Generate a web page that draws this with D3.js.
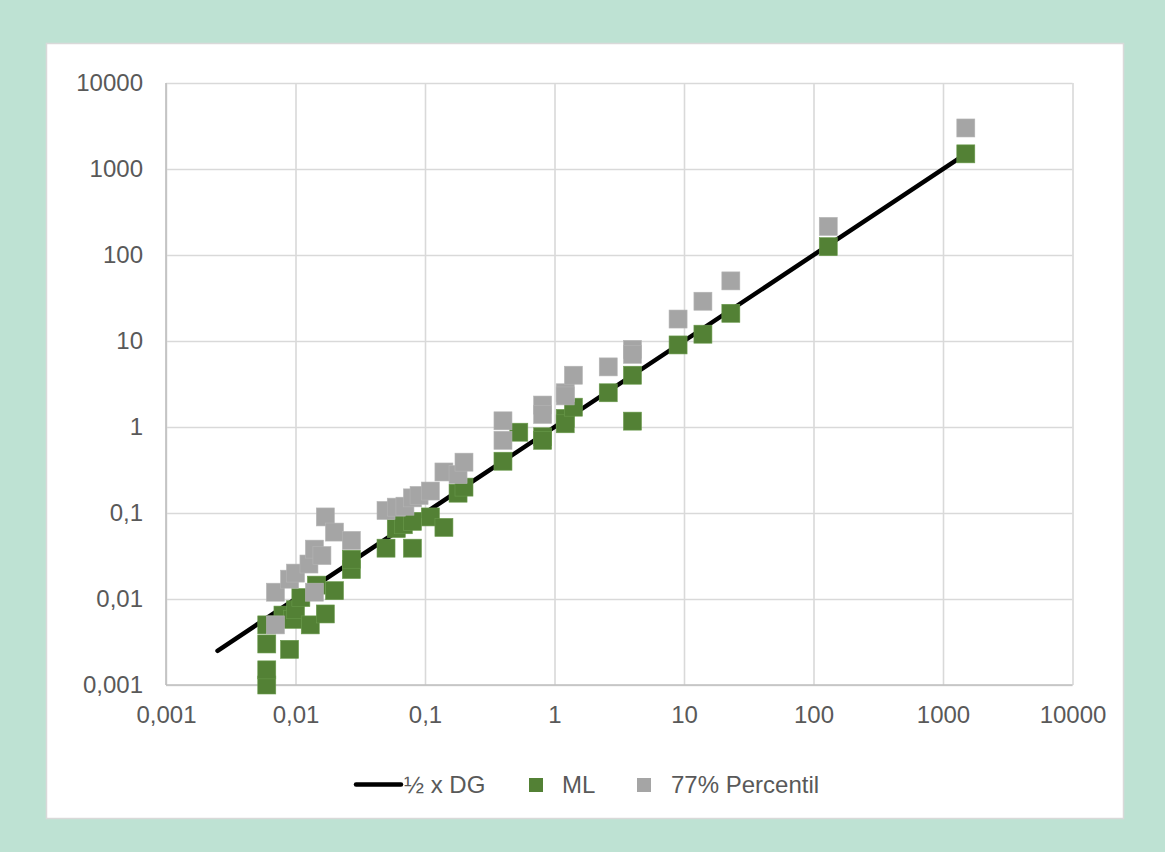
<!DOCTYPE html>
<html>
<head>
<meta charset="utf-8">
<script src="https://cdn.jsdelivr.net/npm/d3@7"></script>
<style>
  html, body { margin: 0; padding: 0; background: #bee2d3; }
  svg { display: block; }
  text { font-family: "Liberation Sans", Arial, sans-serif; fill: #595959; }
</style>
</head>
<body>
<svg id="chart" width="1165" height="852"></svg>
<script>
// ---- data ----
const tickValues = [0.001, 0.01, 0.1, 1, 10, 100, 1000, 10000];
const tickLabels = ["0,001", "0,01", "0,1", "1", "10", "100", "1000", "10000"];

const seriesNames = ["½ x DG", "ML", "77% Percentil"];

// reference line y = x
const lineX = [0.0025, 1500];
const lineY = [0.0025, 1500];

// ML series
const mlX = [0.006, 0.006, 0.006, 0.006, 0.009, 0.008, 0.0095, 0.01, 0.011, 0.013,
             0.0145, 0.017, 0.02, 0.027, 0.027, 0.05, 0.06, 0.068, 0.08, 0.08,
             0.11, 0.14, 0.18, 0.2, 0.4, 0.53, 0.81, 0.81, 1.21, 1.21,
             1.4, 2.6, 4, 4, 9, 14, 23, 130, 1500];
const mlY = [0.001, 0.0015, 0.003, 0.005, 0.0026, 0.0065, 0.0058, 0.0075, 0.0104, 0.005,
             0.0145, 0.0067, 0.0125, 0.022, 0.029, 0.039, 0.066, 0.073, 0.08, 0.039,
             0.09, 0.068, 0.17, 0.2, 0.4, 0.87, 0.77, 0.70, 1.26, 1.09,
             1.7, 2.5, 4, 1.17, 9, 12, 21, 125, 1500];

// 77% percentile series
const pX = [0.007, 0.007, 0.009, 0.01, 0.0127, 0.014, 0.014, 0.016, 0.017, 0.02,
            0.027, 0.05, 0.06, 0.07, 0.08, 0.09, 0.11, 0.14, 0.18, 0.2,
            0.4, 0.4, 0.81, 0.81, 1.21, 1.21, 1.4, 2.6, 4, 4,
            9, 14, 23, 130, 1500];
const pY = [0.005, 0.012, 0.017, 0.02, 0.0255, 0.012, 0.038, 0.032, 0.09, 0.06,
            0.048, 0.107, 0.117, 0.12, 0.15, 0.16, 0.18, 0.3, 0.28, 0.39,
            1.18, 0.7, 1.8, 1.4, 2.5, 2.3, 4, 5, 8, 7,
            18, 29, 50, 215, 3000];

// ---- drawing ----
const svg = d3.select("#chart");
const FS = 24;

// white panel
svg.append("rect").attr("x", 46.5).attr("y", 43.5).attr("width", 1077).attr("height", 775)
  .attr("fill", "#ffffff").attr("stroke", "#d9d9d9").attr("stroke-width", 1.5);

const x = d3.scaleLog().domain([0.001, 10000]).range([166, 1072.5]);
const y = d3.scaleLog().domain([0.001, 10000]).range([685, 83]);

const fmt = d => tickLabels[tickValues.indexOf(d)];

// grid + axes
const gx = svg.append("g").attr("transform", `translate(0,${y(0.001)})`)
  .call(d3.axisBottom(x).tickValues(tickValues).tickFormat(fmt)
        .tickSize(-(y(0.001) - y(10000))).tickPadding(21));
const gy = svg.append("g").attr("transform", `translate(${x(0.001)},0)`)
  .call(d3.axisLeft(y).tickValues(tickValues).tickFormat(fmt)
        .tickSize(-(x(10000) - x(0.001))).tickPadding(23));
[gx, gy].forEach(g => {
  g.select(".domain").remove();
  g.selectAll(".tick line").attr("stroke", "#d9d9d9").attr("stroke-width", 1.6);
  g.selectAll(".tick text").attr("font-size", FS).attr("fill", "#595959")
    .attr("font-family", "Liberation Sans, Arial, sans-serif");
});
// axis lines
svg.append("line").attr("x1", x(0.001)).attr("x2", x(10000)).attr("y1", y(0.001)).attr("y2", y(0.001))
  .attr("stroke", "#bfbfbf").attr("stroke-width", 1.6);
svg.append("line").attr("x1", x(0.001)).attr("x2", x(0.001)).attr("y1", y(0.001)).attr("y2", y(10000))
  .attr("stroke", "#bfbfbf").attr("stroke-width", 1.6);

// reference line
const lineData = lineX.map((v, i) => [v, lineY[i]]);
svg.append("path").datum(lineData)
  .attr("d", d3.line().x(d => x(d[0])).y(d => y(d[1])))
  .attr("fill", "none").attr("stroke", "#000").attr("stroke-width", 4.5)
  .attr("stroke-linecap", "round");

const S = 18;
const mlData = mlX.map((v, i) => [v, mlY[i]]);
svg.append("g").selectAll("rect").data(mlData).join("rect")
  .attr("x", d => x(d[0]) - S / 2).attr("y", d => y(d[1]) - S / 2)
  .attr("width", S).attr("height", S)
  .attr("fill", "#538135").attr("stroke", "#6a9a4c").attr("stroke-width", 0.6);

const pData = pX.map((v, i) => [v, pY[i]]);
svg.append("g").selectAll("rect").data(pData).join("rect")
  .attr("x", d => x(d[0]) - S / 2).attr("y", d => y(d[1]) - S / 2)
  .attr("width", S).attr("height", S)
  .attr("fill", "#a5a5a5").attr("stroke", "#b5b5b5").attr("stroke-width", 0.6);

// legend
const lg = svg.append("g");
lg.append("line").attr("x1", 356).attr("x2", 401).attr("y1", 784.5).attr("y2", 784.5)
  .attr("stroke", "#000").attr("stroke-width", 4.5).attr("stroke-linecap", "round");
lg.append("text").attr("x", 404).attr("y", 793).attr("font-size", FS).text(seriesNames[0]);
lg.append("rect").attr("x", 529).attr("y", 778).attr("width", 14).attr("height", 14).attr("fill", "#538135");
lg.append("text").attr("x", 562).attr("y", 793).attr("font-size", FS).text(seriesNames[1]);
lg.append("rect").attr("x", 637).attr("y", 778).attr("width", 14).attr("height", 14).attr("fill", "#a5a5a5");
lg.append("text").attr("x", 671).attr("y", 793).attr("font-size", FS).text(seriesNames[2]);
</script>
</body>
</html>
